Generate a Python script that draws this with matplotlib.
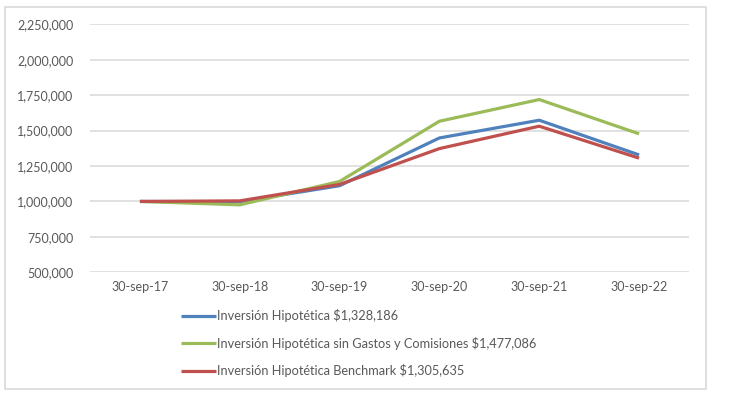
import matplotlib
matplotlib.use("Agg")
import matplotlib.pyplot as plt
from matplotlib.patches import Rectangle
from matplotlib.ticker import FuncFormatter

plt.rcParams["font.family"] = ["Lato", "DejaVu Sans"]

fechas = ["30-sep-17", "30-sep-18", "30-sep-19", "30-sep-20", "30-sep-21", "30-sep-22"]
hipotetica = [1000000, 998000, 1111000, 1448000, 1573000, 1328186]
sin_gastos = [1000000, 976000, 1141000, 1566000, 1719000, 1477086]
benchmark = [1000000, 1004000, 1120000, 1373000, 1531000, 1305635]

etiquetas = [
    "Inversión Hipotética $1,328,186",
    "Inversión Hipotética sin Gastos y Comisiones $1,477,086",
    "Inversión Hipotética Benchmark $1,305,635",
]
colores = ["#4f81bd", "#9bbb59", "#c0504d"]

W, H = 729, 408
fig = plt.figure(figsize=(W / 100, H / 100), dpi=100)
ax = fig.add_axes([90 / W, 1 - 272.3 / H, (689 - 90) / W, (272.3 - 24.3) / H])

x = range(len(fechas))
for serie, lab, col in zip([hipotetica, sin_gastos, benchmark], etiquetas, colores):
    ax.plot(x, serie, color=col, linewidth=2.3, label=lab, solid_capstyle="butt")

ax.set_xlim(-0.5, len(fechas) - 0.5)
ax.set_ylim(500000, 2250000)
ax.set_yticks(range(500000, 2250001, 250000))
ax.yaxis.set_major_formatter(FuncFormatter(lambda v, p: f"{int(v):,}"))
ax.set_xticks(list(x))
ax.set_xticklabels(fechas)
ax.grid(axis="y", color="#d9d9d9", linewidth=1.1)
ax.set_axisbelow(True)
for s in ax.spines.values():
    s.set_visible(False)
ax.tick_params(axis="both", length=0, colors="#595959", labelsize=9)
ax.tick_params(axis="y", pad=12)
ax.tick_params(axis="x", pad=6)

leg = fig.legend(loc="upper left", bbox_to_anchor=(181 / W, 1 - 309.5 / H),
                 frameon=False, fontsize=9.2, handlelength=2.7, handletextpad=0.15,
                 labelspacing=1.12, borderpad=0, borderaxespad=0)
for t in leg.get_texts():
    t.set_color("#595959")

fig.patches.append(Rectangle((5 / W, 1 - 389 / H), (706 - 5) / W, (389 - 7) / H,
                             transform=fig.transFigure, fill=False,
                             edgecolor="#d9d9d9", linewidth=1.2))

fig.savefig("out.png", dpi=100)
